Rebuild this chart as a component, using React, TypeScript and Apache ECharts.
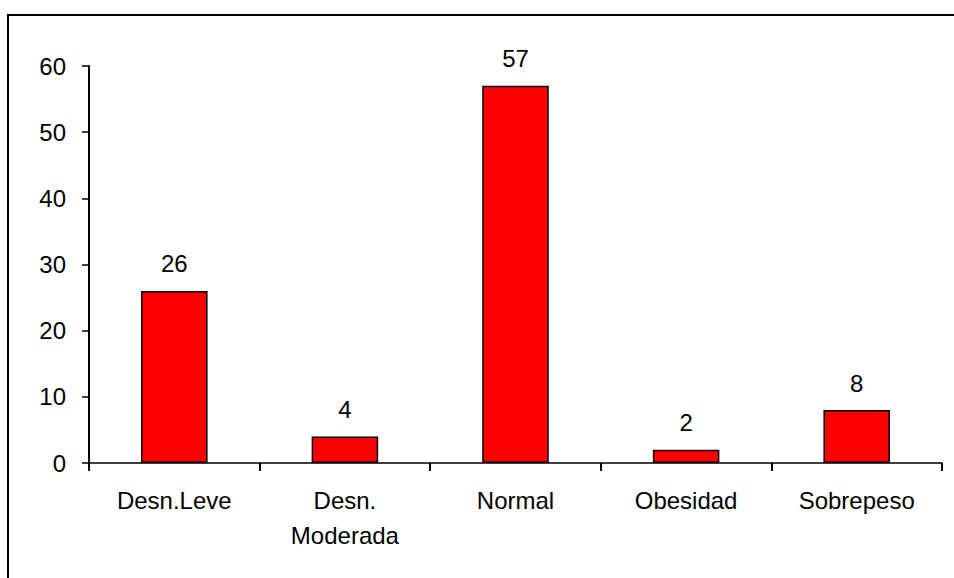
import React, { useEffect, useRef } from "react";
import * as echarts from "echarts";

const categories = ["Desn.Leve", "Desn.\nModerada", "Normal", "Obesidad", "Sobrepeso"];
const values = [26, 4, 57, 2, 8];
const yMin = 0;
const yMax = 60;
const yInterval = 10;

const FONT = "'Liberation Sans', Arial, sans-serif";

export default function App() {
  const ref = useRef<HTMLDivElement>(null);
  useEffect(() => {
    const chart = echarts.init(ref.current!, null, { renderer: "svg" });
    chart.setOption({
      animation: false,
      backgroundColor: "#ffffff",
      textStyle: { fontFamily: FONT },
      graphic: [
        {
          type: "rect",
          shape: { x: 8, y: 15, width: 980, height: 600 },
          style: { fill: "none", stroke: "#000", lineWidth: 2 },
          silent: true,
        },
      ],
      grid: { left: 89, right: 12, top: 66, bottom: 115 },
      xAxis: {
        type: "category",
        data: categories,
        axisLine: { lineStyle: { color: "#000", width: 1.5 } },
        axisTick: { show: true, length: 8, lineStyle: { color: "#000", width: 2 } },
        axisLabel: {
          color: "#000",
          fontSize: 24,
          fontFamily: FONT,
          margin: 20,
          lineHeight: 35,
          interval: 0,
        },
      },
      yAxis: {
        type: "value",
        min: yMin,
        max: yMax,
        interval: yInterval,
        splitLine: { show: false },
        axisLine: { show: true, lineStyle: { color: "#000", width: 2 } },
        axisTick: { show: true, length: 7, lineStyle: { color: "#000", width: 1.5 } },
        axisLabel: { color: "#000", fontSize: 24, fontFamily: FONT, margin: 23 },
      },
      series: [
        {
          type: "bar",
          data: values,
          barWidth: "39%",
          itemStyle: { color: "#ff0000", borderColor: "#000", borderWidth: 1.5 },
          label: {
            show: true,
            position: "top",
            distance: 15,
            color: "#000",
            fontSize: 24,
            fontFamily: FONT,
          },
        },
      ],
    });
    return () => chart.dispose();
  }, []);
  return (
    <div
      ref={ref}
      style={{ position: "absolute", left: 0, top: 0, width: 954, height: 578 }}
    />
  );
}
